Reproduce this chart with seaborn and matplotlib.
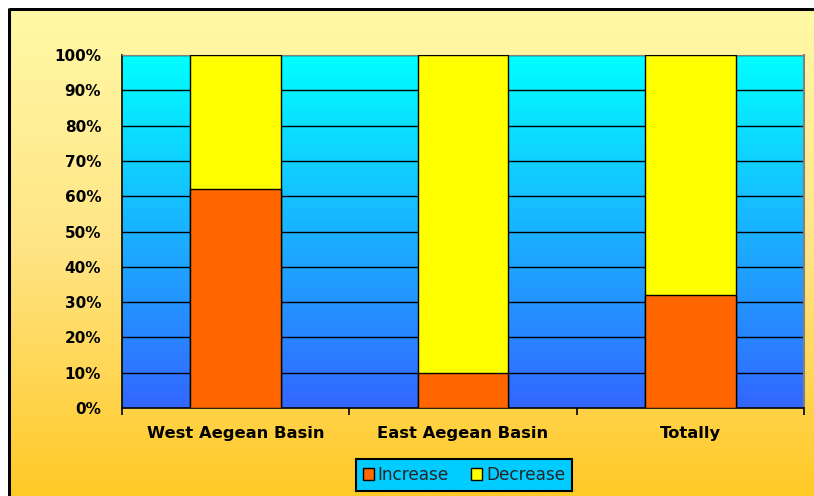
import numpy as np
import pandas as pd
import matplotlib
matplotlib.use("Agg")
import matplotlib.pyplot as plt
from matplotlib.colors import LinearSegmentedColormap
from matplotlib.patches import Patch
from matplotlib.ticker import FixedLocator, PercentFormatter
import seaborn as sns

# Share of stations by trend direction in each basin
categories = ["West Aegean Basin", "East Aegean Basin", "Totally"]
increase = [62, 10, 32]
decrease = [38, 90, 68]
y_ticks = [0, 10, 20, 30, 40, 50, 60, 70, 80, 90, 100]

sns.set_theme(style="white")
plt.rcParams["font.family"] = ["DejaVu Sans"]

W, H = 814, 496
fig = plt.figure(figsize=(W / 100, H / 100), dpi=100)
fig.patch.set_facecolor("white")

# Warm page background with a dark frame on the top and left
bg = fig.add_axes([8 / W, 0, 1 - 8 / W, 1 - 8 / H], zorder=-5)
warm = LinearSegmentedColormap.from_list("warm", ["#FFF9A6", "#FFE484", "#FFC926"])
bg.imshow(np.linspace(0, 1, 256).reshape(-1, 1), aspect="auto", cmap=warm,
          extent=[0, 1, 0, 1], origin="upper")
bg.set_xlim(0, 1)
bg.set_ylim(0, 1)
bg.set_axis_off()
bg.plot([0.001, 0.001], [0, 0.999], color="black", lw=2.2, solid_capstyle="butt")
bg.plot([0.001, 1], [0.997, 0.997], color="black", lw=2.2, solid_capstyle="butt")

ax = fig.add_axes([122 / W, (H - 408) / H, (804 - 122) / W, (408 - 55) / H])

df = pd.DataFrame({"category": categories, "increase": increase,
                   "total": np.array(increase) + np.array(decrease)})

# Plot-area gradient from cyan at the top to blue at the bottom
cool = LinearSegmentedColormap.from_list("cool", ["#00FFFF", "#1AB2FF", "#3366FF"])
ax.imshow(np.linspace(0, 1, 256).reshape(-1, 1), aspect="auto", cmap=cool,
          extent=[-0.5, 2.5, 0, 100], origin="upper", zorder=0)

sns.barplot(data=df, x="category", y="total", color="#FFFF00", width=0.4,
            edgecolor="black", linewidth=1.0, saturation=1, ax=ax, zorder=3)
sns.barplot(data=df, x="category", y="increase", color="#FF6600", width=0.4,
            edgecolor="black", linewidth=1.0, saturation=1, ax=ax, zorder=4)

ax.set_xlim(-0.5, 2.5)
ax.set_ylim(0, 100)
ax.set_xlabel("")
ax.set_ylabel("")

ax.yaxis.set_major_locator(FixedLocator(y_ticks))
ax.yaxis.set_major_formatter(PercentFormatter(decimals=0))
for v in y_ticks[1:]:
    ax.axhline(v, color="black", lw=1.0, zorder=2)

ax.tick_params(axis="y", which="major", direction="out", length=5, width=1,
               color="black", pad=10, labelsize=11)
ax.tick_params(axis="x", which="major", length=0, pad=13, labelsize=11.8)
ax.xaxis.set_minor_locator(FixedLocator([-0.5, 0.5, 1.5, 2.5]))
ax.tick_params(axis="x", which="minor", direction="out", length=5, width=1.2,
               color="black", bottom=True)
for lab in ax.get_xticklabels() + ax.get_yticklabels():
    lab.set_fontweight("bold")
    lab.set_color("black")

for side in ["left", "bottom"]:
    ax.spines[side].set_color("black")
    ax.spines[side].set_linewidth(1.2)
ax.spines["top"].set_color("#808080")
ax.spines["top"].set_linewidth(0.8)
ax.spines["right"].set_color("#808080")
ax.spines["right"].set_linewidth(1.5)

handles = [Patch(facecolor="#FF6600", edgecolor="black", label="Increase"),
           Patch(facecolor="#FFFF00", edgecolor="black", label="Decrease")]
leg = fig.legend(handles=handles, loc="center", bbox_to_anchor=(464 / W, (H - 475) / H),
                 ncol=2, frameon=True, fancybox=False, fontsize=12.2,
                 handlelength=0.65, handleheight=0.65, handletextpad=0.25,
                 columnspacing=1.3, borderpad=0.4)
frame = leg.get_frame()
frame.set_facecolor("#00CCFF")
frame.set_edgecolor("black")
frame.set_linewidth(1.5)
frame.set_alpha(1)

fig.savefig("out.png", dpi=100)
